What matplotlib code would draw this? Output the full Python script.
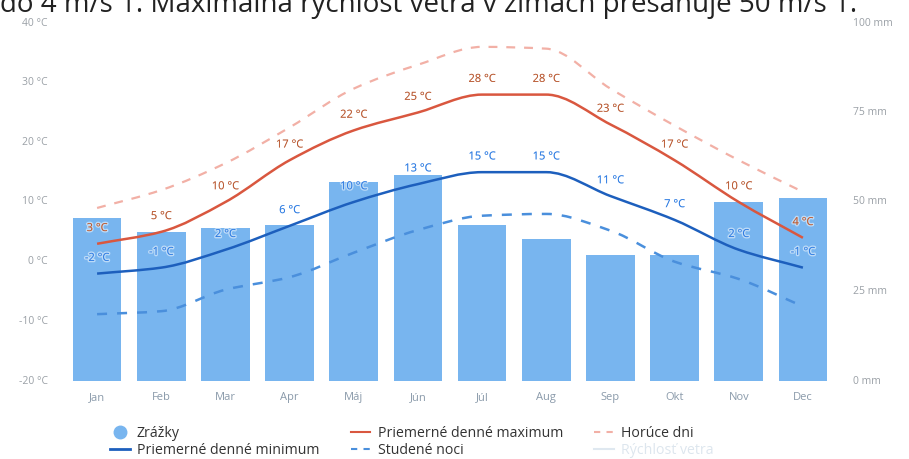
import numpy as np
import matplotlib
matplotlib.use("Agg")
import matplotlib.pyplot as plt
from matplotlib.path import Path
from matplotlib.patches import PathPatch
from matplotlib.lines import Line2D
import matplotlib.patheffects as pe

plt.rcParams['font.family'] = ['Open Sans', 'DejaVu Sans']

# data
months = ["Jan", "Feb", "Mar", "Apr", "Máj", "Jún", "Júl", "Aug", "Sep", "Okt", "Nov", "Dec"]
precip = [45.5, 41.7, 42.8, 43.7, 55.5, 57.6, 43.7, 39.8, 35.2, 35.2, 50.0, 51.1]
t_max = [3, 5, 10, 17, 22, 25, 28, 28, 23, 17, 10, 4]
t_min = [-2, -1, 2, 6, 10, 13, 15, 15, 11, 7, 2, -1]
hot_days = [9, 12, 16.5, 22.5, 29, 33, 36, 35.7, 29, 22.8, 17, 11.7]
cold_nights = [-8.8, -8.3, -4.7, -2.6, 1.5, 5.3, 7.7, 8, 5.2, 0, -2.9, -7.5]
left_ticks = [40, 30, 20, 10, 0, -10, -20]
right_ticks = [100, 75, 50, 25, 0]

c_bar = "#78b5ef"
c_max = "#d9573f"
c_min = "#1d5fbd"
c_hot = "#f2b0a6"
c_cold = "#4a8fdc"
c_max_lbl = "#b8562e"
c_min_lbl = "#2a7ae2"


def smooth_path(x, y):
    # monotone cubic through the points, drawn as bezier segments
    x = np.asarray(x, float)
    y = np.asarray(y, float)
    d = np.diff(y) / np.diff(x)
    m = np.zeros_like(y)
    m[0], m[-1] = d[0], d[-1]
    for i in range(1, len(y) - 1):
        if d[i - 1] * d[i] <= 0:
            m[i] = 0
        else:
            m[i] = 2 / (1 / d[i - 1] + 1 / d[i])
    verts = [(x[0], y[0])]
    codes = [Path.MOVETO]
    for i in range(len(x) - 1):
        h = x[i + 1] - x[i]
        verts += [(x[i] + h / 3, y[i] + m[i] * h / 3),
                  (x[i + 1] - h / 3, y[i + 1] - m[i + 1] * h / 3),
                  (x[i + 1], y[i + 1])]
        codes += [Path.CURVE4] * 3
    return Path(verts, codes)


W, H = 909, 459
fig = plt.figure(figsize=(W / 100, H / 100), dpi=100)
ax2 = fig.add_axes([65 / W, 1 - 381 / H, 770 / W, 358 / H])
ax = ax2.twinx()

xs = np.arange(12)
ax2.bar(xs, precip, width=0.76, color=c_bar, zorder=1)
ax2.set_ylim(0, 100)
ax2.set_xlim(-0.5, 11.5)
ax.set_ylim(-20, 40)

for series, col, ls, lw in [(hot_days, c_hot, (0, (4, 4)), 1.6),
                            (cold_nights, c_cold, (0, (4, 4)), 1.8),
                            (t_max, c_max, '-', 1.8),
                            (t_min, c_min, '-', 1.8)]:
    ax.add_patch(PathPatch(smooth_path(xs, series), fill=False, edgecolor=col,
                           linestyle=ls, linewidth=lw, capstyle='butt', zorder=3))

halo = [pe.withStroke(linewidth=2, foreground=(1, 1, 1, 0.5))]
for i in range(12):
    ax.annotate(f"{t_max[i]} °C", (xs[i], t_max[i]), xytext=(0, 7), textcoords='offset points',
                ha='center', va='bottom', fontsize=8, color=c_max_lbl, zorder=4, path_effects=halo)
    ax.annotate(f"{t_min[i]} °C", (xs[i], t_min[i]), xytext=(0, 7), textcoords='offset points',
                ha='center', va='bottom', fontsize=8, color=c_min_lbl, zorder=4, path_effects=halo)

ax2.set_yticks([])
ax.set_yticks([])
for sp in list(ax.spines.values()) + list(ax2.spines.values()):
    sp.set_visible(False)
ax2.set_xticks(xs)
ax2.set_xticklabels(months, fontsize=8, color="#8a9aaa")
ax2.tick_params(axis='x', length=0, pad=8)

# tick labels of both scales, placed next to the plot
for t in left_ticks:
    ax.text(-17 / 770, t, f"{t} °C", transform=ax.get_yaxis_transform(),
            ha='right', va='center', fontsize=7.5, color="#9aa0a6")
for t in right_ticks:
    ax2.text(1 + 18 / 770, t, f"{t} mm", transform=ax2.get_yaxis_transform(),
             ha='left', va='center', fontsize=7.5, color="#9aa0a6")

handles = [
    Line2D([], [], marker='o', color='none', markerfacecolor=c_bar, markeredgecolor=c_bar, markersize=9),
    Line2D([], [], color=c_min, lw=2),
    Line2D([], [], color=c_max, lw=1.5),
    Line2D([], [], color=c_cold, lw=1.5, linestyle=(0, (3, 3))),
    Line2D([], [], color=c_hot, lw=1.5, linestyle=(0, (3, 3))),
    Line2D([], [], color="#dfe8f0", lw=1.5),
]
labels = ["Zrážky", "Priemerné denné minimum", "Priemerné denné maximum",
          "Studené noci", "Horúce dni", "Rýchlosť vetra"]
leg = fig.legend(handles, labels, ncol=3, loc='upper left', bbox_to_anchor=(110 / W, 1 - 426 / H),
                 frameon=False, fontsize=10.2, handlelength=1.4, columnspacing=2.2,
                 labelspacing=0.15, handletextpad=0.5, borderpad=0, borderaxespad=0)
for i, t in enumerate(leg.get_texts()):
    t.set_color("#dde6ee" if i == 5 else "#333333")

fig.text(0, 1 - 12 / H, "do 4 m/s 1. Maximálna rýchlosť vetra v zimách presahuje 50 m/s 1.",
         ha='left', va='baseline', fontsize=20, color="#222222")

fig.savefig("out.png", dpi=100)
